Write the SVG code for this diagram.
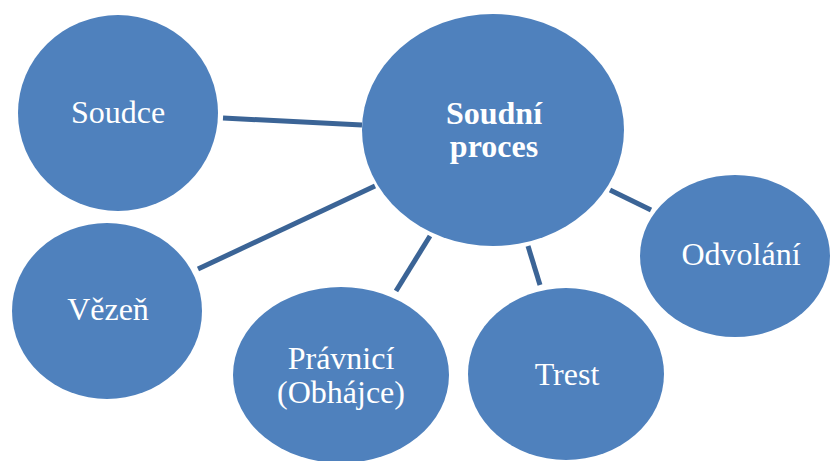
<svg xmlns="http://www.w3.org/2000/svg" width="832" height="461" viewBox="0 0 832 461">
<style>
.n{fill:#4F81BD}
text{fill:#fff;font-family:'Liberation Serif','Times New Roman',serif;font-size:32px;text-anchor:middle}
.b{font-weight:bold}
.c{stroke:#3B6496;stroke-width:5;fill:none}
</style>
<rect width="832" height="461" fill="#fff"/>
<g id="connectors">
<line class="c" x1="223" y1="118" x2="362" y2="125"/>
<line class="c" x1="375" y1="186" x2="198" y2="269"/>
<line class="c" x1="430" y1="236" x2="396" y2="291"/>
<line class="c" x1="528" y1="246" x2="540" y2="285"/>
<line class="c" x1="610" y1="190" x2="651" y2="210"/>
</g>
<g id="soudce"><ellipse class="n" cx="118" cy="113" rx="100" ry="98"/><text x="118" y="123">Soudce</text></g>
<g id="soudni-proces"><ellipse class="n" cx="493" cy="130" rx="131" ry="116"/><text class="b" x="494" y="124">Soudní</text><text class="b" x="494" y="157">proces</text></g>
<g id="odvolani"><ellipse class="n" cx="735" cy="256" rx="95" ry="81"/><text x="741" y="265">Odvolání</text></g>
<g id="vezen"><ellipse class="n" cx="107" cy="311" rx="95" ry="88"/><text x="108" y="320">Vězeň</text></g>
<g id="pravnici"><ellipse class="n" cx="341" cy="375" rx="108" ry="88"/><text x="341" y="369">Právnicí</text><text x="341" y="403">(Obhájce)</text></g>
<g id="trest"><ellipse class="n" cx="566" cy="374" rx="98" ry="86"/><text x="567" y="385">Trest</text></g>
</svg>
